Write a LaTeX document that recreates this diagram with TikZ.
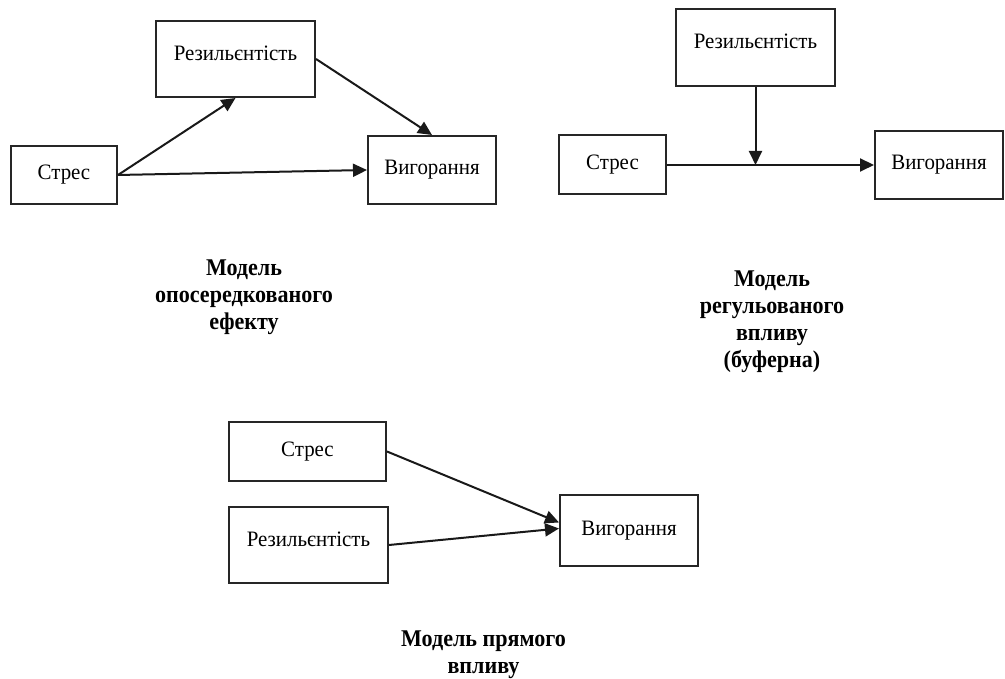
\documentclass[tikz,border=0pt]{standalone}
\usepackage{fontspec}
\setmainfont{Liberation Serif}
\newfontfamily\boxfont{Liberation Serif}[FakeStretch=0.95]
\newfontfamily\capfont{Liberation Serif}[FakeStretch=0.92]
\usetikzlibrary{arrows.meta,calc}
\begin{document}
\begin{tikzpicture}[x=1pt,y=1pt,
  box/.style={draw=black!85,line width=2pt,rectangle,inner sep=0pt,font=\boxfont\fontsize{22}{24}\selectfont},
  up/.style={text depth=12pt},
  arr/.style={line width=2pt,draw=black!90,-{Triangle[length=14pt,width=13pt]}},
  captext/.style={align=center,anchor=base,inner sep=0pt,font=\capfont\fontsize{24}{27}\selectfont\bfseries}]
\useasboundingbox (0,0) rectangle (1005,679);
% panel 1
\node[box,up,minimum width=159pt,minimum height=76pt] (R1) at (235.5,620) {Резильєнтість};
\node[box,minimum width=106pt,minimum height=58pt] (S1) at (64,504) {Стрес};
\node[box,minimum width=128pt,minimum height=68pt] (V1) at (432,509) {Вигорання};
\draw[arr] (S1.east) -- (R1.south);
\draw[arr] (R1.east) -- (V1.north);
\draw[arr] (S1.east) -- (V1.west);
\node[captext] (C1) at (244,349) {Модель\\опосередкованого\\ефекту};
% panel 2
\node[box,up,minimum width=159pt,minimum height=77pt] (R2) at (755.5,631.5) {Резильєнтість};
\node[box,minimum width=107pt,minimum height=59pt] (S2) at (612.5,514) {Стрес};
\node[box,minimum width=128pt,minimum height=68pt] (V2) at (939,514) {Вигорання};
\coordinate (M2) at (R2.south |- S2.east);
\draw[arr] (S2.east) -- (V2.west);
\draw[arr] (R2.south) -- (M2);
\node[captext] (C2) at (772,311) {Модель\\регульованого\\впливу\\(буферна)};
% panel 3
\node[box,minimum width=157pt,minimum height=59pt] (S3) at (307.5,227.5) {Стрес};
\node[box,up,minimum width=159pt,minimum height=76pt] (R3) at (308.5,134) {Резильєнтість};
\node[box,minimum width=138pt,minimum height=71pt] (V3) at (629,148.5) {Вигорання};
\draw[arr] (S3.east) -- ($(V3.west)+(0,8)$);
\draw[arr] (R3.east) -- ($(V3.west)+(0,2)$);
\node[captext] (C3) at (483.5,5) {Модель прямого\\впливу};
\end{tikzpicture}
\end{document}
